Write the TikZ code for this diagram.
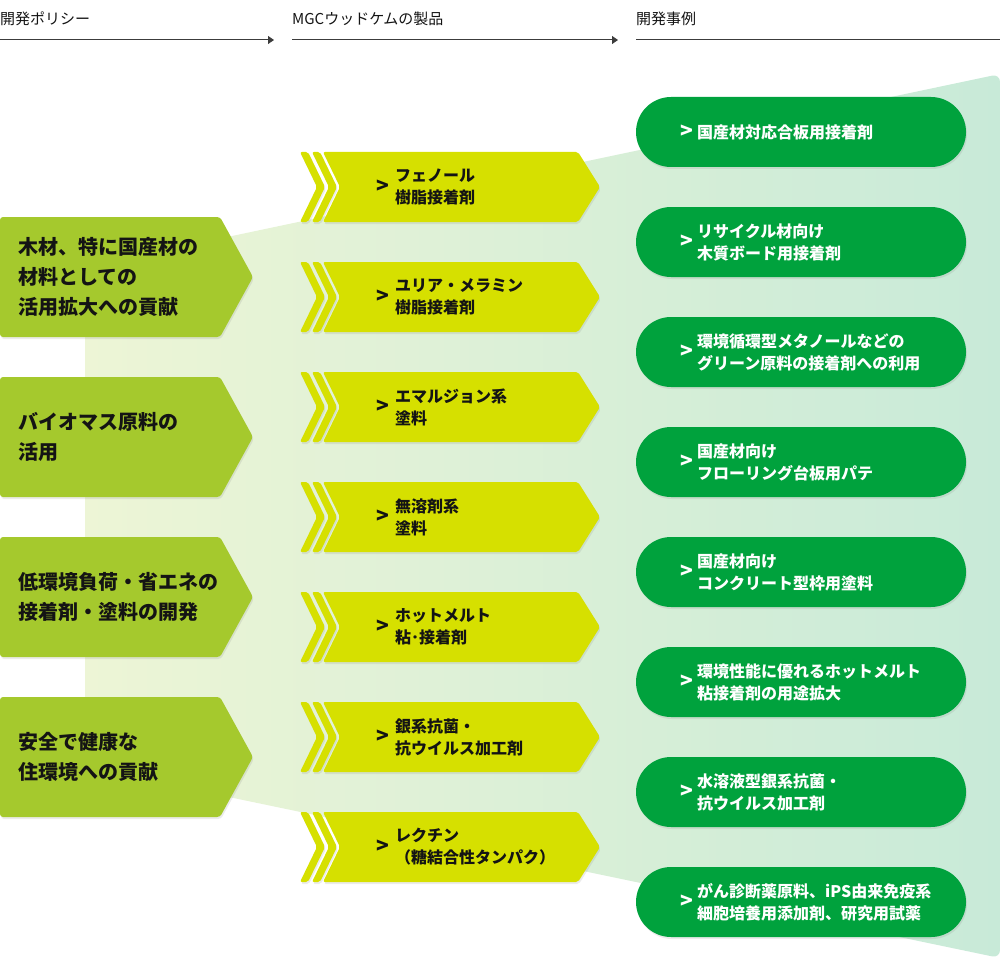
\documentclass[tikz,border=0pt]{standalone}
\usepackage{fontspec}
\setmainfont{Noto Sans CJK JP}
\usetikzlibrary{arrows.meta,shadows}

\definecolor{policygreen}{RGB}{165,201,45}
\definecolor{productlime}{RGB}{214,224,0}
\definecolor{casegreen}{RGB}{0,162,61}
\definecolor{funnelleft}{RGB}{237,245,214}
\definecolor{funnelright}{RGB}{200,234,216}
\definecolor{headgray}{RGB}{60,60,60}
\definecolor{inkblack}{RGB}{20,20,20}

\tikzset{
  softshadow/.style={drop shadow={shadow xshift=1pt, shadow yshift=-2pt, opacity=0.16}},
  policy/.style={fill=policygreen, rounded corners=3pt, softshadow},
  product/.style={fill=productlime, rounded corners=2pt, softshadow},
  case/.style={fill=casegreen, rounded corners=35pt, softshadow},
  headtext/.style={anchor=west, inner sep=0pt, font=\fontsize{15}{18}\selectfont, text=inkblack},
  headline/.style={draw=headgray, line width=1pt},
  policytext/.style={anchor=west, inner sep=0pt, align=left, font=\fontsize{20}{30}\selectfont\bfseries, text=inkblack},
  producttext/.style={anchor=west, inner sep=0pt, align=left, font=\fontsize{16}{22}\selectfont\bfseries, text=inkblack},
  casetext/.style={anchor=west, inner sep=0pt, align=left, font=\fontsize{16}{22}\selectfont\bfseries, text=white},
  caret/.style={anchor=west, inner sep=0pt, font=\fontsize{21}{22}\selectfont\bfseries}
}

\begin{document}
\begin{tikzpicture}[x=1pt, y=-1pt]
\useasboundingbox (0,0) rectangle (1000,960);

% Headings
\node[headtext] (head1) at (0,19) {開発ポリシー};
\node[headtext] (head2) at (292,19) {MGCウッドケムの製品};
\node[headtext] (head3) at (636,19) {開発事例};
\coordinate (line1a) at (0,40);
\coordinate (line1b) at (274,40);
\coordinate (line2a) at (292,40);
\coordinate (line2b) at (618,40);
\coordinate (line3a) at (636,40);
\coordinate (line3b) at (1000,40);
\draw[headline, -{Triangle[length=6pt,width=8pt]}] (line1a) -- (line1b);
\draw[headline, -{Triangle[length=6pt,width=8pt]}] (line2a) -- (line2b);
\draw[headline] (line3a) -- (line3b);

% Funnel behind everything
\shade[left color=funnelleft, right color=funnelright, rounded corners=8pt]
  (85,267) -- (1000,74) -- (1000,958) -- (85,767) -- cycle;

% Policies
\foreach \ty/\txt [count=\i] in {217/{木材、特に国産材の\\材料としての\\活用拡大への貢献},
    377/{バイオマス原料の\\活用},
    537/{低環境負荷・省エネの\\接着剤・塗料の開発},
    697/{安全で健康な\\住環境への貢献}} {
  \fill[policy] (0,\ty) -- ++(220,0) -- ++(33,60) -- ++(-33,60) -- ++(-220,0) -- cycle;
  \node[policytext] (policy\i) at (18,\ty+60) {\txt};
}

% Products
\foreach \ty/\txt [count=\i] in {152/{フェノール\\樹脂接着剤},
    262/{ユリア・メラミン\\樹脂接着剤},
    372/{エマルジョン系\\塗料},
    482/{無溶剤系\\塗料},
    592/{ホットメルト\\粘･接着剤},
    702/{銀系抗菌・\\抗ウイルス加工剤},
    812/{レクチン\\（糖結合性タンパク）}} {
  \fill[product] (300,\ty) -- ++(8,0) -- ++(17,35) -- ++(-17,35) -- ++(-8,0) -- ++(17,-35) -- cycle;
  \fill[product] (312,\ty) -- ++(8,0) -- ++(17,35) -- ++(-17,35) -- ++(-8,0) -- ++(17,-35) -- cycle;
  \fill[product] (323,\ty) -- (578,\ty) -- (600,\ty+35) -- (578,\ty+70) -- (323,\ty+70) -- (340,\ty+35) -- cycle;
  \node[caret, text=inkblack] (productmark\i) at (376,\ty+35) {>};
  \node[producttext] (product\i) at (395,\ty+35) {\txt};
}

% Cases
\foreach \ty/\txt [count=\i] in {97/{国産材対応合板用接着剤},
    207/{リサイクル材向け\\木質ボード用接着剤},
    317/{環境循環型メタノールなどの\\グリーン原料の接着剤への利用},
    427/{国産材向け\\フローリング台板用パテ},
    537/{国産材向け\\コンクリート型枠用塗料},
    647/{環境性能に優れるホットメルト\\粘接着剤の用途拡大},
    757/{水溶液型銀系抗菌・\\抗ウイルス加工剤},
    867/{がん診断薬原料、iPS由来免疫系\\細胞培養用添加剤、研究用試薬}} {
  \fill[case] (636,\ty) rectangle (966,\ty+70);
  \node[caret, text=white] (casemark\i) at (680,\ty+35) {>};
  \node[casetext] (case\i) at (697,\ty+35) {\txt};
}
\end{tikzpicture}
\end{document}
